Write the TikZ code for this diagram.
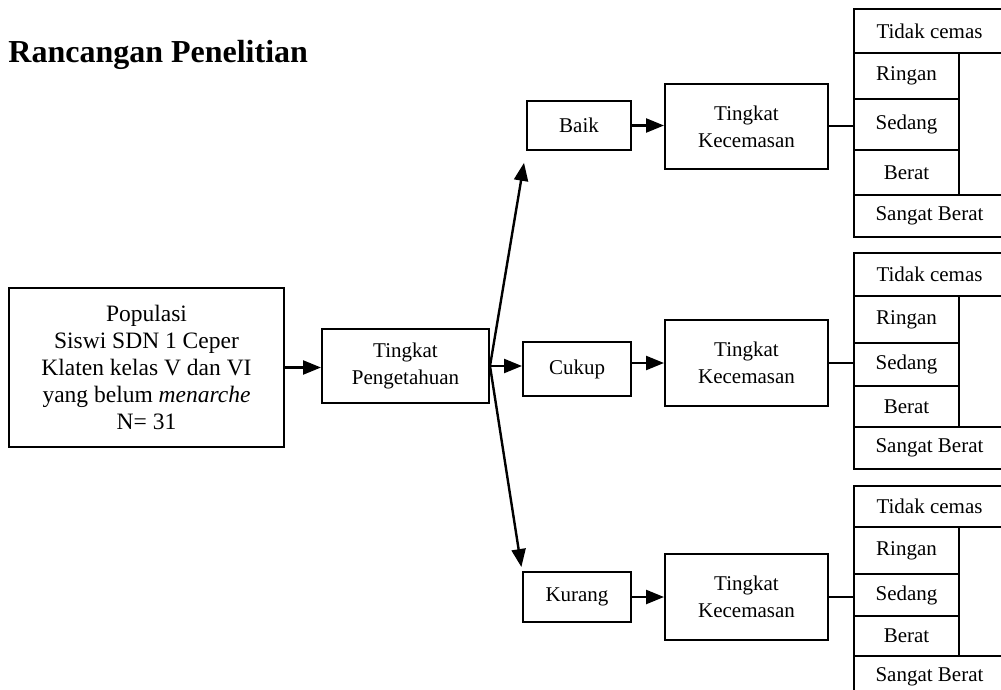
\documentclass[tikz,border=0pt]{standalone}
\usepackage{fontspec}
\setmainfont{Liberation Serif}
\usepackage{tikz}
\usetikzlibrary{arrows.meta}
\tikzstyle{kotak} = [rectangle, draw=black, line width=1pt, inner sep=0pt, align=center, font=\fontsize{10.5}{13.5}\selectfont]
\tikzstyle{sel} = [rectangle, draw=black, line width=1pt, inner sep=0pt, anchor=north west, font=\fontsize{10.5}{13.5}\selectfont]
\tikzstyle{arrow} = [line width=1.2pt,-{Triangle[length=9pt,width=7pt]}]

\begin{document}
\begin{tikzpicture}[x=0.5pt,y=-0.5pt]
	\useasboundingbox (0,0) rectangle (1001,690);
	\clip (0,0) rectangle (1001,690);

	\node (title) [anchor=base west, inner sep=0pt, font=\fontsize{16}{19}\selectfont\bfseries] at (8,63) {Rancangan Penelitian};

	\node (pop) [kotak, minimum width=137.5pt, minimum height=79.5pt, font=\fontsize{11.75}{13.5}\selectfont] at (146.5,367.5) {Populasi\\Siswi SDN 1 Ceper\\Klaten kelas V dan VI\\yang belum \textit{menarche}\\N= 31};
	\node (peng) [kotak, minimum width=83.5pt, minimum height=37pt] at (405.5,366) {Tingkat\\Pengetahuan};

	\node (baik) [kotak, minimum width=52pt, minimum height=24.5pt] at (579,125.5) {Baik};
	\node (cukup) [kotak, minimum width=54pt, minimum height=27pt] at (577,369) {Cukup};
	\node (kurang) [kotak, minimum width=54pt, minimum height=25pt] at (577,597) {Kurang};

	\node (kec1) [kotak, minimum width=81.5pt, minimum height=42.5pt] at (746.5,126.5) {Tingkat\\Kecemasan};
	\node (kec2) [kotak, minimum width=81.5pt, minimum height=43pt] at (746.5,363) {Tingkat\\Kecemasan};
	\node (kec3) [kotak, minimum width=81.5pt, minimum height=43pt] at (746.5,597) {Tingkat\\Kecemasan};

	% kolom tingkat kecemasan
	\foreach \g/\ya/\yb/\yc/\yd/\ye/\yf in {1/8/52/98/149/194/236, 2/252/295/342/385/426/468, 3/485/526/573/615/655/697} {
		\node (tc\g) [sel, minimum width=75.5pt, minimum height={(\yb-\ya)*0.5pt}] at (853,\ya) {Tidak cemas};
		\node (ri\g) [sel, minimum width=52.5pt, minimum height={(\yc-\yb)*0.5pt}] at (853,\yb) {Ringan};
		\node (se\g) [sel, minimum width=52.5pt, minimum height={(\yd-\yc)*0.5pt}] at (853,\yc) {Sedang};
		\node (be\g) [sel, minimum width=52.5pt, minimum height={(\ye-\yd)*0.5pt}] at (853,\yd) {Berat};
		\node (sb\g) [sel, minimum width=75.5pt, minimum height={(\yf-\ye)*0.5pt}] at (853,\ye) {Sangat Berat};
		\draw [line width=1pt] (kec\g.east) -- (kec\g.east -| se\g.west);
	}

	\draw [arrow] (pop.east) -- (pop.east -| peng.west);
	\draw [arrow, shorten >=6pt] (peng.east) -- (baik.south west);
	\draw [arrow] (peng.east) -- (peng.east -| cukup.west);
	\draw [arrow, shorten >=2pt] (peng.east) -- (kurang.north west);

	\draw [arrow] (baik.east) -- (baik.east -| kec1.west);
	\draw [arrow] (kec2.west -| cukup.east) -- (kec2.west);
	\draw [arrow] (kurang.east) -- (kec3.west);
\end{tikzpicture}
\end{document}
